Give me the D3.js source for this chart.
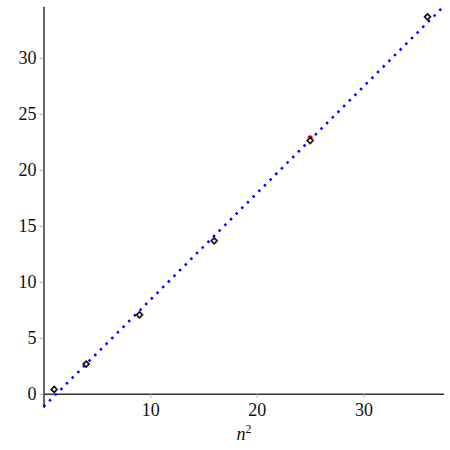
<!DOCTYPE html>
<html><head><meta charset="utf-8">
<script src="https://cdn.jsdelivr.net/npm/d3@7"></script>
<style>body{margin:0;background:#fff}svg{display:block}</style>
</head><body>
<script>
// data
const nSquared = [1, 4, 9, 16, 25, 36];
const observed = [0.39, 2.65, 7.05, 13.65, 22.6, 33.65];
const redX = [1, 4, 9, 16, 25, 36];
const redY = [0.39, 2.65, 7.05, 13.65, 22.85, 33.65];
const fitX = [0, 37.5];
const fitY = [-1.16, 34.57];
const xTicks = [10, 20, 30];
const yTicks = [0, 5, 10, 15, 20, 25, 30];

const W = 450, H = 450;
const FONT = '"Liberation Serif"';
const svg = d3.select("body").append("svg").attr("width", W).attr("height", H);
const x = d3.scaleLinear().domain([0, 37.5]).range([43.5, 443.5]);
const y = d3.scaleLinear().domain([-1.2, 34.6]).range([407.2, 6.2]);

// x axis at y=0
const xAxis = d3.axisBottom(x).tickValues(xTicks).tickSize(4).tickSizeOuter(0).tickFormat(d3.format("d"));
const gx = svg.append("g").attr("transform", `translate(0,${y(0)})`).call(xAxis);
gx.select(".domain").attr("stroke", "#333").attr("stroke-width", 1.5);
gx.selectAll(".tick line").attr("stroke", "#aaa");
gx.selectAll(".tick text").style("font-family", FONT).style("font-size", "18px").attr("fill", "#111").attr("dy", "0.82em");

const yAxis = d3.axisLeft(y).tickValues(yTicks).tickSize(4).tickSizeOuter(0).tickFormat(d3.format("d"));
const gy = svg.append("g").attr("transform", `translate(${x(0)},0)`).call(yAxis);
gy.select(".domain").attr("stroke", "#333").attr("stroke-width", 1.5);
gy.selectAll(".tick line").attr("stroke", "#aaa");
gy.selectAll(".tick text").style("font-family", FONT).style("font-size", "18px").attr("fill", "#111").attr("x", -7);

// fit line
const lineData = fitX.map((v, i) => [v, fitY[i]]);
svg.append("path").datum(lineData)
  .attr("d", d3.line().x(d => x(d[0])).y(d => y(d[1])))
  .attr("fill", "none").attr("stroke", "#0000ff").attr("stroke-width", 2.5)
  .attr("stroke-dasharray", "2.5,5.5");

// red points
svg.selectAll("circle.red").data(redX.map((v, i) => [v, redY[i]])).enter()
  .append("circle").attr("class", "red")
  .attr("cx", d => x(d[0])).attr("cy", d => y(d[1])).attr("r", 2.5).attr("fill", "#e00000");

// black diamonds
const sym = d3.symbol().type(d3.symbolDiamond2).size(22);
svg.selectAll("path.pt").data(nSquared.map((v, i) => [v, observed[i]])).enter()
  .append("path").attr("class", "pt")
  .attr("transform", d => `translate(${x(d[0])},${y(d[1])})`)
  .attr("d", sym).attr("fill", "#fff").attr("stroke", "#1a1010").attr("stroke-width", 1.7);

// x label
const lab = svg.append("text").attr("x", 244).attr("y", 440).attr("text-anchor", "middle")
  .style("font-family", FONT).style("font-size", "18px").attr("fill", "#111");
lab.append("tspan").style("font-style", "italic").text("n");
lab.append("tspan").attr("dy", -7).style("font-size", "12px").text("2");
</script>
</body></html>
